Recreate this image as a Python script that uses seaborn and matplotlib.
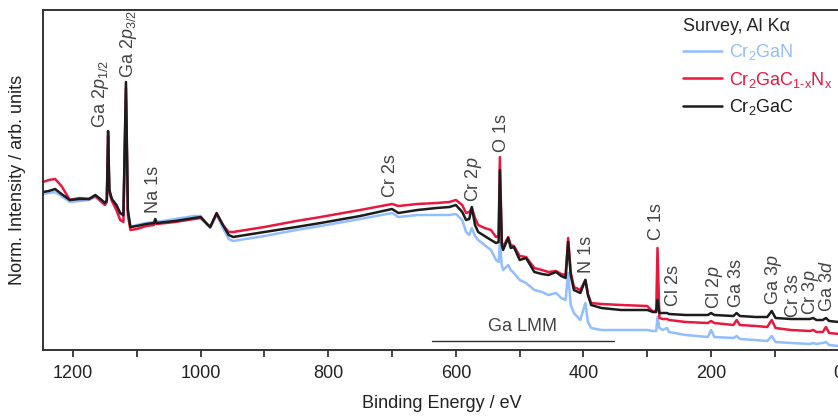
import numpy as np
import pandas as pd
import matplotlib
matplotlib.use("Agg")
import matplotlib.pyplot as plt
import seaborn as sns
from matplotlib.lines import Line2D

# ---------------- data ----------------
energy_eV = [1247, 1238, 1228, 1218, 1205, 1190, 1175, 1165, 1155, 1150, 1147, 1145, 1143,
             1139, 1132, 1126, 1121, 1117, 1114, 1110, 1100, 1085, 1073, 1071, 1069, 1040,
             1010, 1000, 990, 985, 975, 965, 956, 949, 900, 850, 812, 750, 700, 690, 660,
             630, 610, 600, 590, 584, 579, 575, 570, 565, 555, 545, 537, 533, 531, 528,
             526, 518, 514, 509, 500, 490, 477, 465, 455, 443, 435, 428, 424, 420, 415,
             405, 397, 393, 388, 372, 341, 300, 291, 286, 284, 281, 276, 269, 266, 240,
             205, 200, 195, 165, 160, 155, 130, 112, 105, 99, 75, 45, 40, 35, 25, 20, 15, 0]
cr2gac = [158, 159, 161, 156, 150, 151, 151, 155, 150, 147, 150, 219, 160,
          151, 145, 137, 135, 268, 140, 123, 124, 126, 127, 131, 127, 129,
          132, 133, 126, 123, 137, 125, 115, 113, 118, 123, 127, 134, 141, 137, 140,
          142, 143, 145, 138, 130, 131, 143, 125, 118, 114, 110, 107, 108, 180, 105,
          100, 112, 102, 103, 90, 92, 78, 76, 75, 78, 74, 72, 108, 75, 60,
          57, 70, 55, 45, 42, 40, 40, 38, 38, 50, 37, 37, 37, 36, 35,
          35, 37, 35, 34, 37, 34, 33, 33, 39, 32, 31, 31, 32, 30, 30, 32, 29, 28]
cr2gacn = [168, 170, 171, 164, 150, 152, 151, 154, 148, 145, 148, 214, 158,
           149, 140, 130, 128, 262, 135, 120, 121, 124, 125, 129, 126, 128,
           131, 132, 126, 123, 136, 125, 118, 118, 123, 129, 133, 140, 146, 144, 146,
           147, 148, 150, 145, 137, 138, 142, 132, 125, 122, 120, 113, 114, 193, 108,
           103, 113, 105, 104, 94, 93, 82, 80, 78, 79, 76, 75, 112, 78, 63,
           60, 70, 56, 47, 46, 45, 44, 38, 40, 102, 32, 31, 31, 30, 28,
           27, 29, 27, 25, 30, 25, 24, 23, 30, 22, 20, 19, 20, 18, 18, 23, 17, 16]
cr2gan = [156, 157, 158, 154, 148, 149, 150, 153, 148, 146, 149, 205, 158,
          150, 145, 136, 134, 250, 138, 123, 125, 127, 128, 131, 128, 131,
          134, 134, 126, 122, 135, 122, 111, 109, 114, 120, 124, 131, 137, 133, 135,
          135, 135, 136, 130, 118, 115, 122, 114, 110, 105, 100, 90, 88, 107, 85,
          80, 85, 80, 77, 70, 67, 60, 58, 55, 57, 52, 50, 77, 45, 37,
          30, 47, 28, 22, 20, 20, 20, 19, 19, 33, 22, 20, 22, 18, 15,
          13, 20, 13, 12, 14, 11, 10, 9, 14, 8, 7, 6, 7, 6, 7, 8, 5, 4]

series_names = ["Cr$_2$GaN", "Cr$_2$GaC$_{\\mathrm{1\u2010x}}$N$_\\mathrm{x}$", "Cr$_2$GaC"]
series_colors = ["#92bdff", "#e8183f", "#1c1c1c"]
legend_title = "Survey, Al K\u03b1"

peak_labels = ["Ga 2$\\mathit{p}_{1/2}$", "Ga 2$\\mathit{p}_{3/2}$", "Na 1s", "Cr 2s",
               "Cr 2$\\mathit{p}$", "O 1s", "N 1s", "C 1s", "Cl 2s", "Cl 2$\\mathit{p}$",
               "Ga 3s", "Ga 3$\\mathit{p}$", "Cr 3s", "Cr 3$\\mathit{p}$", "Ga 3$\\mathit{d}$"]
peak_label_E = [1157, 1113, 1074, 702, 572, 529, 396, 286, 259, 195, 160, 102, 71, 44, 17]
peak_label_y = [222, 272, 137, 153, 148, 198, 77, 110, 44, 41, 43, 45, 33, 35, 38]

lmm_range = [638, 352]
lmm_y = 9

# ---------------- style ----------------
sns.set_style("ticks")
plt.rcParams["font.family"] = ["Liberation Sans", "DejaVu Sans"]
plt.rcParams["mathtext.fontset"] = "custom"
plt.rcParams["mathtext.rm"] = "Liberation Sans"
plt.rcParams["mathtext.it"] = "Liberation Sans:italic"
plt.rcParams["mathtext.bf"] = "Liberation Sans:bold"

fig = plt.figure(figsize=(8.38, 4.16), dpi=100)
ax = fig.add_axes([43 / 838, 66 / 416, 1 - 43 / 838 + 0.002, 340 / 416])

frames = []
for name, vals in zip(series_names, [cr2gan, cr2gacn, cr2gac]):
    frames.append(pd.DataFrame({"E": energy_eV, "I": vals, "sample": name}))
df = pd.concat(frames, ignore_index=True)

sns.lineplot(data=df, x="E", y="I", hue="sample", hue_order=series_names,
             palette=series_colors, sort=False, estimator=None, lw=1.8, ax=ax,
             legend=False)

ax.set_xlim(1247, -1.5)
ax.set_ylim(0, 340)
ax.set_yticks([])
ax.set_xticks([1200, 1000, 800, 600, 400, 200, 0])
ax.set_xticks([1100, 900, 700, 500, 300, 100], minor=True)
ax.tick_params(axis="x", which="both", direction="out", length=5, width=1.2,
               labelsize=13, colors="#222222", pad=6)
for s in ax.spines.values():
    s.set_linewidth(1.4)
    s.set_color("#333333")
ax.set_xlabel("Binding Energy / eV", fontsize=13, color="#222222", labelpad=9)
ax.set_ylabel("Norm. Intensity / arb. units", fontsize=13, color="#222222", labelpad=12)

for lab, e, y in zip(peak_labels, peak_label_E, peak_label_y):
    ax.text(e, y, lab, rotation=90, ha="center", va="bottom", fontsize=13,
            color="#444444")

ax.plot(lmm_range, [lmm_y, lmm_y], color="#333333", lw=1.0)
ax.text(np.mean(lmm_range), 15, "Ga LMM", ha="center", va="bottom", fontsize=13,
        color="#444444")

handles = [Line2D([], [], color=c, lw=1.8) for c in series_colors]
leg = ax.legend(handles, series_names, loc="upper left", bbox_to_anchor=(0.803, 0.976),
                frameon=False, fontsize=13, title=legend_title,
                title_fontsize=13, alignment="left", labelspacing=0.4,
                handlelength=2.2, handletextpad=0.35, borderpad=0.0,
                borderaxespad=0.0)
for t, c in zip(leg.get_texts(), series_colors):
    t.set_color(c)

fig.savefig("out.png", dpi=100)
